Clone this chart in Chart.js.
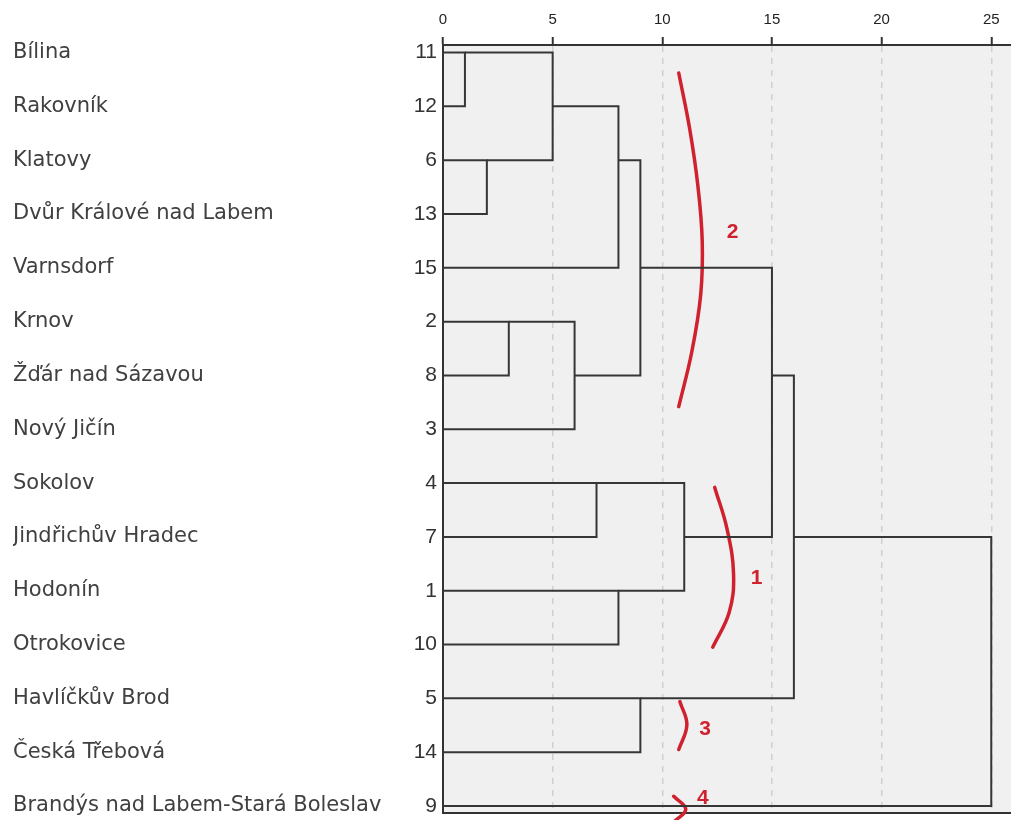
<!DOCTYPE html>
<html>
<head>
<meta charset="utf-8">
<script src="https://cdn.jsdelivr.net/npm/chart.js@4"></script>
<style>
  body { margin: 0; background: #fff; }
</style>
</head>
<body>
<canvas id="dendro" width="1011" height="820"></canvas>
<script>
// cases, in the order the dendrogram lists them (top to bottom)
const caseNames = [
    "Bílina", "Rakovník", "Klatovy", "Dvůr Králové nad Labem", "Varnsdorf",
    "Krnov", "Žďár nad Sázavou", "Nový Jičín", "Sokolov", "Jindřichův Hradec",
    "Hodonín", "Otrokovice", "Havlíčkův Brod", "Česká Třebová",
    "Brandýs nad Labem-Stará Boleslav"
];
const caseNumbers = [11, 12, 6, 13, 15, 2, 8, 3, 4, 7, 1, 10, 5, 14, 9];

// agglomeration schedule (rescaled distance 0-25)
const stageCluster1 = [11, 6, 2, 11, 2, 4, 11, 1, 11, 5, 4, 11, 11, 11];
const stageCluster2 = [12, 13, 8, 6, 3, 7, 15, 10, 2, 14, 1, 4, 5, 9];
const stageDistance = [1, 2, 3, 5, 6, 7, 8, 8, 9, 9, 11, 15, 16, 25];

const axisTicks = [0, 5, 10, 15, 20, 25];

// hand drawn red brackets: [distance, row]
const groupLabels = ["2", "1", "3", "4"];
const groupLabelPos = [[13.2, 3.33], [14.3, 9.76], [11.95, 12.57], [11.85, 13.85]];
const groupBrackets = [
    [[10.75, 0.38], [11.25, 1.42], [11.62, 2.47], [11.82, 3.5], [11.75, 4.5], [11.35, 5.55], [10.75, 6.58]],
    [[12.39, 8.08], [12.95, 8.85], [13.25, 9.7], [13.05, 10.4], [12.3, 11.05]],
    [[10.8, 12.06], [11.12, 12.49], [10.75, 12.95]],
    [[10.52, 13.82], [11.07, 14.06], [10.52, 14.3]]
];

const lineColor = "#363636";
const red = "#d0222e";

// walk the schedule: each stage gives one bracket polyline
function buildLinks() {
    let pos = {};
    caseNumbers.forEach((c, i) => { pos[c] = { x: 0, y: i }; });
    let links = [];
    for (let s = 0; s < stageDistance.length; s++) {
        let a = pos[stageCluster1[s]];
        let b = pos[stageCluster2[s]];
        let d = stageDistance[s];
        links.push([
            { x: a.x, y: a.y }, { x: d, y: a.y },
            { x: d, y: b.y }, { x: b.x, y: b.y }
        ]);
        pos[stageCluster1[s]] = { x: d, y: Math.floor((a.y + b.y) / 2) };
        delete pos[stageCluster2[s]];
    }
    return links;
}

let datasets = buildLinks().map(pts => ({
    data: pts,
    borderColor: lineColor,
    borderWidth: 2,
    pointRadius: 0,
    tension: 0,
    borderJoinStyle: "miter",
    clip: false,
    xAxisID: "x",
    yAxisID: "yNum"
}));

groupBrackets.forEach(b => {
    datasets.push({
        data: b.map(p => ({ x: p[0], y: p[1] })),
        borderColor: red,
        borderWidth: 3.5,
        pointRadius: 0,
        tension: 0.4,
        borderCapStyle: "round",
        clip: false,
        xAxisID: "x",
        yAxisID: "yNum"
    });
});

const plotBackground = {
    id: "plotBackground",
    beforeDraw(chart) {
        const { ctx, chartArea: a } = chart;
        ctx.save();
        ctx.fillStyle = "#f0f0f0";
        ctx.fillRect(a.left, a.top, a.right - a.left, a.bottom - a.top);
        ctx.restore();
    }
};

const groupText = {
    id: "groupText",
    afterDatasetsDraw(chart) {
        const { ctx, scales } = chart;
        ctx.save();
        ctx.fillStyle = red;
        ctx.font = "bold 21px 'Liberation Sans', Arial, sans-serif";
        ctx.textAlign = "center";
        ctx.textBaseline = "middle";
        groupLabels.forEach((t, i) => {
            ctx.fillText(t,
                scales.x.getPixelForValue(groupLabelPos[i][0]),
                scales.yNum.getPixelForValue(groupLabelPos[i][1]));
        });
        ctx.restore();
    }
};

const rowTicks = scale => {
    scale.ticks = caseNumbers.map((c, i) => ({ value: i }));
};

// fixed widths; drop the half-label padding so rows fill the frame
const fitRows = w => scale => {
    scale.width = w;
    scale.paddingTop = 0;
    scale.paddingBottom = 0;
};

new Chart(document.getElementById("dendro"), {
    type: "line",
    data: { datasets: datasets },
    plugins: [plotBackground, groupText],
    options: {
        responsive: false,
        animation: false,
        devicePixelRatio: 1,
        layout: { padding: { left: 13, right: 0, top: 0, bottom: 7 } },
        plugins: {
            legend: { display: false },
            tooltip: { enabled: false }
        },
        scales: {
            x: {
                type: "linear",
                position: "top",
                min: 0,
                max: 25.9,
                afterBuildTicks: scale => {
                    scale.ticks = axisTicks.map(v => ({ value: v }));
                },
                afterFit: scale => { scale.height = 45; },
                ticks: {
                    color: "#222",
                    padding: 8,
                    font: { family: "'Liberation Sans', Arial, sans-serif", size: 15 }
                },
                grid: {
                    color: c => (c.tick && c.tick.value === 0) ? "rgba(0,0,0,0)" : "#cfcfcf",
                    lineWidth: 1.5,
                    tickColor: "#333",
                    tickLength: 8,
                    tickWidth: 2
                },
                border: { color: "#333", width: 2, dash: [6, 6] }
            },
            xBottom: {
                type: "linear",
                position: "bottom",
                min: 0,
                max: 25.9,
                afterFit: scale => { scale.height = 0; },
                ticks: { display: false },
                grid: { display: false, drawTicks: false },
                border: { color: "#333", width: 2 }
            },
            yNum: {
                type: "linear",
                position: "left",
                reverse: true,
                min: -0.14,
                max: 14.13,
                weight: 0,
                afterBuildTicks: rowTicks,
                afterFit: fitRows(43),
                ticks: {
                    color: "#333",
                    padding: 6,
                    font: { family: "'Liberation Sans', Arial, sans-serif", size: 21 },
                    callback: v => caseNumbers[v]
                },
                grid: { display: false, drawTicks: false },
                border: { color: "#333", width: 2 }
            },
            yNames: {
                type: "linear",
                position: "left",
                reverse: true,
                min: -0.14,
                max: 14.13,
                weight: 1,
                afterBuildTicks: rowTicks,
                afterFit: fitRows(387),
                ticks: {
                    color: "#404040",
                    crossAlign: "far",
                    font: { family: "'DejaVu Sans', sans-serif", size: 21 },
                    callback: v => caseNames[v]
                },
                grid: { display: false, drawTicks: false },
                border: { display: false }
            }
        }
    }
});
</script>
</body>
</html>
